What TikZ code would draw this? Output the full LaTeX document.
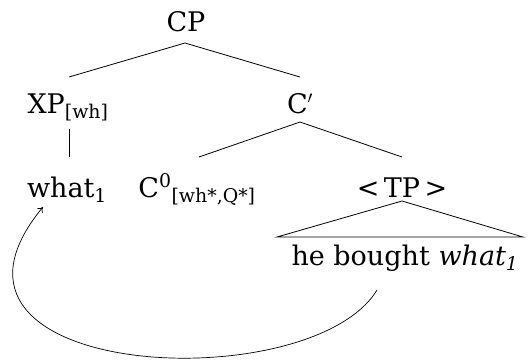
\documentclass[tikz,border=0pt]{standalone}
\usepackage{fontspec}
\setmainfont{DejaVu Serif}
\usetikzlibrary{arrows.meta}
\begin{document}
\begin{tikzpicture}[x=1pt,y=-1pt,
  lbl/.style={anchor=base,inner sep=0pt,font=\fontsize{27}{32}\selectfont},
  edge/.style={line width=0.8pt},
  mv/.style={line width=0.7pt,-{To[length=5pt,width=7pt]}}]
\useasboundingbox (0,0) rectangle (528,360);
% nodes
\node[lbl] (cp)   at (186,31)  {CP};
\node[lbl] (xp)   at (68,113)  {XP\textsubscript{[wh]}};
\node[lbl] (cbar) at (300,113) {C$'$};
\node[lbl] (what) at (67,197)  {what\textsubscript{1}};
\node[lbl] (c0)   at (197,197) {C\textsuperscript{0}\textsubscript{[wh*,Q*]}};
\node[lbl] (tp)   at (402,197) {<\,TP\,>};
\node[lbl] (str)  at (405,265) {he bought \textit{what\textsubscript{1}}};
% edge end points
\coordinate (cpB)   at (185,43);
\coordinate (xpT)   at (69,77);
\coordinate (cbarT) at (300,77);
\coordinate (xpB)   at (69,129);
\coordinate (whatT) at (69,157);
\coordinate (cbarB) at (300,122);
\coordinate (c0T)   at (199,157);
\coordinate (tpT)   at (402,157);
\coordinate (tpB)   at (402,201);
\coordinate (triL)  at (277,237);
\coordinate (triR)  at (523,237);
\coordinate (mvS)   at (377,290);
\coordinate (mvE)   at (43,207);
% tree edges
\draw[edge] (xpT) -- (cpB) -- (cbarT);
\draw[edge] (xpB) -- (whatT);
\draw[edge] (c0T) -- (cbarB) -- (tpT);
\draw[edge] (triL) -- (tpB) -- (triR) -- cycle;
% movement arrow
\draw[mv] (mvS) .. controls (310,400) and (-100,380) .. (mvE);
\end{tikzpicture}
\end{document}
